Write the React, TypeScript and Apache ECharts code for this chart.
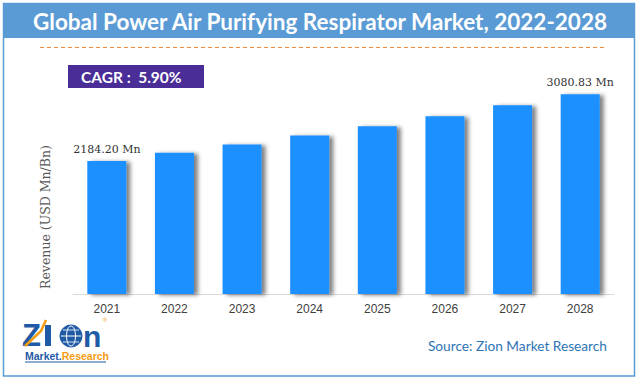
import React, { useEffect, useRef } from "react";
import * as echarts from "echarts";

const categories = ["2021", "2022", "2023", "2024", "2025", "2026", "2027", "2028"];
const revenue = [2184.2, 2294, 2407, 2527, 2652, 2786, 2934, 3080.83];
const labelled = [0, 7];
const titleText = "Global Power Air Purifying Respirator Market, 2022-2028";
const cagrText = "CAGR :  5.90%";
const yAxisName = "Revenue (USD Mn/Bn)";
const sourceText = "Source: Zion Market Research";

export default function App() {
  const ref = useRef<HTMLDivElement>(null);
  useEffect(() => {
    if (!ref.current) return;
    const chart = echarts.init(ref.current, undefined, { renderer: "svg" });
    const data = revenue.map((v, i) => ({
      value: v,
      label: {
        show: labelled.includes(i),
        formatter: (p: any) => p.value.toFixed(2) + " Mn",
      },
    }));
    const blue = "#1f5aa6";
    const orange = "#f39c12";
    chart.setOption({
      animation: false,
      backgroundColor: "#ffffff",
      grid: { left: 73, right: 24, top: 63, bottom: 86 },
      xAxis: {
        type: "category",
        data: categories,
        axisTick: { show: false },
        axisLine: { lineStyle: { color: "#d9d9d9", width: 1 } },
        axisLabel: { color: "#404040", fontFamily: "Liberation Sans", fontSize: 12, margin: 9 },
      },
      yAxis: {
        type: "value",
        min: 400,
        max: 3500,
        axisLine: { show: false },
        axisTick: { show: false },
        axisLabel: { show: false },
        splitLine: { show: false },
      },
      series: [
        {
          type: "bar",
          data,
          barWidth: 39,
          itemStyle: {
            color: "#1e90ff",
            shadowColor: "rgba(0,0,0,0.5)",
            shadowBlur: 4,
            shadowOffsetX: 4,
            shadowOffsetY: 1,
          },
          label: {
            position: "top",
            distance: 6,
            color: "#333333",
            fontFamily: "DejaVu Serif",
            fontSize: 11,
          },
        },
      ],
      graphic: [
        {
          type: "rect",
          shape: { x: 3.5, y: 3.5, width: 631, height: 372.5 },
          style: { fill: "none", stroke: "#5b9bd5", lineWidth: 1.5 },
          z: 10,
        },
        {
          type: "rect",
          shape: { x: 3, y: 3, width: 632, height: 35 },
          style: { fill: "#5b9bd5" },
          z: 10,
        },
        {
          type: "text",
          x: 320,
          y: 21,
          style: {
            text: titleText,
            fill: "#ffffff",
            font: "bold 22.5px Lato",
            textAlign: "center",
            textVerticalAlign: "middle",
          },
          z: 11,
        },
        {
          type: "line",
          shape: { x1: 40, y1: 47.5, x2: 605, y2: 47.5 },
          style: { stroke: "#f08a3c", lineWidth: 1, lineDash: [4, 3] },
          z: 10,
        },
        {
          type: "rect",
          shape: { x: 68, y: 65, width: 136, height: 23 },
          style: { fill: "#4a2d97" },
          z: 10,
        },
        {
          type: "text",
          x: 81,
          y: 76.5,
          style: {
            text: cagrText,
            fill: "#ffffff",
            font: "bold 15.5px Lato",
            textAlign: "left",
            textVerticalAlign: "middle",
          },
          z: 11,
        },
        {
          type: "text",
          x: 45,
          y: 217,
          rotation: Math.PI / 2,
          style: {
            text: yAxisName,
            fill: "#595959",
            font: "12.5px DejaVu Serif",
            textAlign: "center",
            textVerticalAlign: "middle",
          },
          z: 10,
        },
        {
          type: "text",
          x: 607,
          y: 345,
          style: {
            text: sourceText,
            fill: "#2e75b6",
            font: "13.7px Lato",
            textAlign: "right",
            textVerticalAlign: "middle",
          },
          z: 10,
        },
        {
          type: "text",
          x: 22,
          y: 335,
          style: {
            text: "Z",
            fill: blue,
            font: "bold 31px Liberation Sans",
            textAlign: "left",
            textVerticalAlign: "middle",
          },
          z: 10,
        },
        {
          type: "rect",
          shape: { x: 45, y: 325, width: 6, height: 21 },
          style: { fill: blue },
          z: 10,
        },
        {
          type: "polyline",
          shape: { points: [[25, 346], [41, 331], [46, 320]] },
          style: { stroke: orange, lineWidth: 2.5, fill: "none" },
          z: 11,
        },
        {
          type: "circle",
          shape: { cx: 71, cy: 336, r: 11 },
          style: { fill: blue, stroke: blue, lineWidth: 1 },
          z: 10,
        },
        {
          type: "ellipse",
          shape: { cx: 71, cy: 336, rx: 4.5, ry: 10 },
          style: { fill: "none", stroke: "#ffffff", lineWidth: 1 },
          z: 11,
        },
        {
          type: "line",
          shape: { x1: 61, y1: 336, x2: 81, y2: 336 },
          style: { stroke: "#ffffff", lineWidth: 1 },
          z: 11,
        },
        {
          type: "line",
          shape: { x1: 63, y1: 330, x2: 79, y2: 330 },
          style: { stroke: "#ffffff", lineWidth: 0.8 },
          z: 11,
        },
        {
          type: "line",
          shape: { x1: 63, y1: 342, x2: 79, y2: 342 },
          style: { stroke: "#ffffff", lineWidth: 0.8 },
          z: 11,
        },
        {
          type: "text",
          x: 83,
          y: 336,
          style: {
            text: "n",
            fill: blue,
            font: "bold 30px Liberation Sans",
            textAlign: "left",
            textVerticalAlign: "middle",
          },
          z: 10,
        },
        {
          type: "text",
          x: 105,
          y: 320,
          style: { text: "®", fill: orange, font: "6px Liberation Sans", textAlign: "center", textVerticalAlign: "middle" },
          z: 10,
        },
        {
          type: "text",
          x: 25,
          y: 356,
          style: {
            rich: {
              m: { fill: blue, font: "bold 10.5px Liberation Sans" },
              r: { fill: orange, font: "bold 10.5px Liberation Sans" },
            },
            text: "{m|Market.}{r|Research}",
            textAlign: "left",
            textVerticalAlign: "middle",
          },
          z: 10,
        },
        {
          type: "line",
          shape: { x1: 25, y1: 362, x2: 106, y2: 362 },
          style: { stroke: blue, lineWidth: 1 },
          z: 10,
        },
      ],
    });
    return () => chart.dispose();
  }, []);
  return (
    <div
      ref={ref}
      style={{ width: 638, height: 380, position: "fixed", left: 0, top: 0 }}
    />
  );
}
